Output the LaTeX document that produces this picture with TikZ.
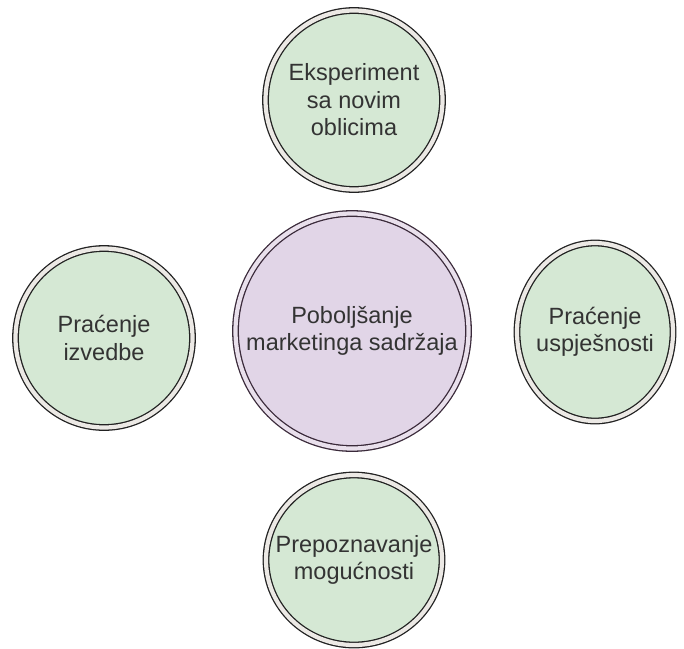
\documentclass[tikz,border=0pt]{standalone}
\usepackage{fontspec}
\setmainfont{Liberation Sans}
\usetikzlibrary{shapes.geometric}
\definecolor{gfill}{HTML}{D5E8D4}
\definecolor{ggap}{HTML}{ECE9E5}
\definecolor{pfill}{HTML}{E1D5E7}
\definecolor{pgap}{HTML}{E9E0EC}
\definecolor{gline}{HTML}{222222}
\definecolor{pline}{HTML}{3A2A3A}
\definecolor{txt}{HTML}{333333}
\tikzset{
  dbl/.style={ellipse, inner sep=0pt, outer sep=0pt, line width=1.3pt, double distance=4.2pt},
  greenc/.style={dbl, draw=gline, fill=gfill, double=ggap},
  purplec/.style={dbl, draw=pline, fill=pfill, double=pgap},
  lbl/.style={align=center, text=txt, inner sep=0pt, font=\fontsize{23.5}{27.5}\selectfont}
}
\begin{document}
\begin{tikzpicture}[x=1pt,y=-1pt]
\useasboundingbox (0,0) rectangle (684,648);
\node[greenc, minimum width=177pt, minimum height=179pt] (top) at (354,100) {};
\node[purplec, minimum width=233pt, minimum height=235pt] (mid) at (352,331) {};
\node[greenc, minimum width=177pt, minimum height=179pt] (left) at (104,338) {};
\node[greenc, minimum width=156pt, minimum height=178pt] (right) at (595,332) {};
\node[greenc, minimum width=176pt, minimum height=170pt] (bot) at (354,560) {};
\node[lbl] (topt) at (top) {Eksperiment\\sa novim\\oblicima};
\node[lbl] (midt) at (mid) {Poboljšanje\\marketinga sadržaja};
\node[lbl] (leftt) at (left) {Praćenje\\izvedbe};
\node[lbl] (rightt) at (right) {Praćenje\\uspješnosti};
\node[lbl] (bott) at (bot) {Prepoznavanje\\mogućnosti};
\end{tikzpicture}
\end{document}
